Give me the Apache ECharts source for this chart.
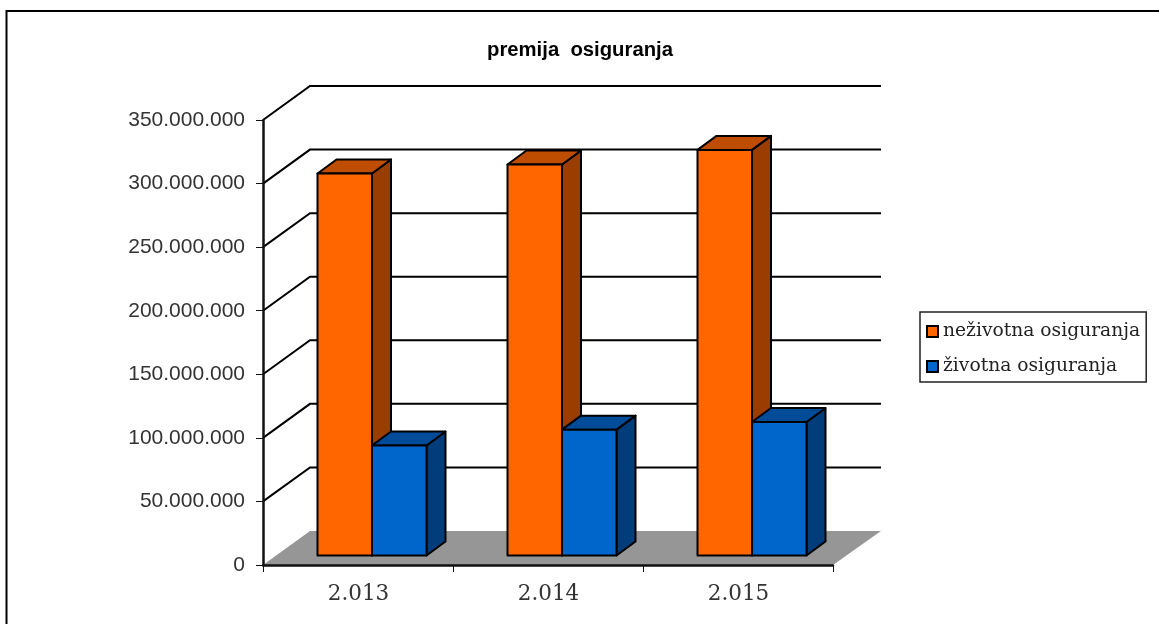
<!DOCTYPE html>
<html>
<head>
<meta charset="utf-8">
<title>premija osiguranja</title>
<script src="https://cdn.jsdelivr.net/npm/echarts@6/dist/echarts.min.js"></script>
<style>
html,body{margin:0;padding:0;background:#fff;}
#main{width:1159px;height:624px;}
</style>
</head>
<body>
<div id="main"></div>
<script>
var categories = ['2.013', '2.014', '2.015'];
var nezivotna = [300500000, 307500000, 319000000];
var zivotna = [86500000, 99000000, 105000000];
var wallTicks = [50000000, 100000000, 150000000, 200000000, 250000000, 300000000, 350000000];

var myChart = echarts.init(document.getElementById('main'));

// back wall is 47px right and 34px up from the axis plane
var wallDx = 47, wallDy = 34;
// bars stand a bit behind the front edge
var barShiftX = 14, barShiftY = 9.5, barDx = 19, barDy = 14, barW = 54.5;

function fmt(v){
    return String(v).replace(/\B(?=(\d{3})+$)/g, '.');
}

function renderWall(params, api){
    var cs = params.coordSys;
    var y = api.coord([0, api.value(0)])[1];
    return {
        type: 'polyline',
        shape: {points: [[cs.x, y], [cs.x + wallDx, y - wallDy], [cs.x + cs.width + wallDx + 1, y - wallDy]]},
        style: {fill: 'none', stroke: '#000', lineWidth: 2}
    };
}

function renderFloor(params, api){
    var cs = params.coordSys;
    var b = cs.y + cs.height;
    return {
        type: 'polygon',
        shape: {points: [[cs.x, b], [cs.x + wallDx, b - wallDy], [cs.x + cs.width + wallDx + 1, b - wallDy], [cs.x + cs.width, b]]},
        style: {fill: '#969696', stroke: 'none'}
    };
}

function barRender(side, front, top, dark){
    return function(params, api){
        var p = api.coord([api.value(0), api.value(1)]);
        var base = api.coord([api.value(0), 0]);
        var x0 = p[0] + barShiftX + (side < 0 ? -barW : 0);
        var x1 = x0 + barW;
        var yt = p[1] - barShiftY;
        var yb = base[1] - barShiftY;
        var st = {stroke: '#000', lineWidth: 2, lineJoin: 'round'};
        return {
            type: 'group',
            children: [
                {type: 'polygon', shape: {points: [[x1, yt], [x1 + barDx, yt - barDy], [x1 + barDx, yb - barDy], [x1, yb]]},
                    style: Object.assign({fill: dark}, st)},
                {type: 'polygon', shape: {points: [[x0, yt], [x0 + barDx, yt - barDy], [x1 + barDx, yt - barDy], [x1, yt]]},
                    style: Object.assign({fill: top}, st)},
                {type: 'rect', shape: {x: x0, y: yt, width: barW, height: yb - yt},
                    style: Object.assign({fill: front}, st)}
            ]
        };
    };
}

var option = {
    animation: false,
    backgroundColor: '#fff',
    title: {
        text: 'premija  osiguranja',
        left: 575,
        textAlign: 'center',
        top: 35,
        textStyle: {fontFamily: 'Liberation Sans', fontSize: 20.3, fontWeight: 'bold', color: '#000'}
    },
    legend: {
        left: 920,
        top: 312,
        orient: 'vertical',
        padding: [10, 6, 6, 6],
        itemGap: 16,
        itemWidth: 11,
        itemHeight: 11,
        icon: 'rect',
        borderColor: '#222',
        borderWidth: 1.5,
        data: ['neživotna osiguranja', 'životna osiguranja'],
        itemStyle: {borderColor: '#000', borderWidth: 2},
        textStyle: {fontFamily: 'DejaVu Serif', fontSize: 18.7, color: '#222'}
    },
    grid: {left: 263, top: 120, width: 570, height: 445},
    xAxis: {
        type: 'category',
        data: categories,
        z: 6,
        axisLine: {lineStyle: {color: '#111', width: 2.5}},
        axisTick: {show: true, length: 7, alignWithLabel: false, lineStyle: {color: '#111', width: 1}},
        axisLabel: {fontFamily: 'DejaVu Serif', fontSize: 21.5, color: '#333', margin: 18, padding: [0, 0, 0, 1]},
        splitLine: {show: false}
    },
    yAxis: {
        type: 'value',
        min: 0,
        max: 350000000,
        interval: 50000000,
        z: 6,
        axisLine: {show: true, onZero: false, lineStyle: {color: '#111', width: 2.5}},
        axisTick: {show: true, length: 7, lineStyle: {color: '#111', width: 1}},
        axisLabel: {fontFamily: 'Liberation Sans', fontSize: 21, color: '#333', margin: 18, formatter: fmt},
        splitLine: {show: false}
    },
    series: [
        {
            type: 'custom',
            silent: true,
            z: 1,
            renderItem: renderFloor,
            data: [[0]],
            encode: {y: 0}
        },
        {
            type: 'custom',
            silent: true,
            z: 2,
            renderItem: renderWall,
            data: wallTicks.map(function(v){ return [v]; }),
            encode: {y: 0}
        },
        {
            name: 'neživotna osiguranja',
            type: 'custom',
            z: 3,
            itemStyle: {color: '#FF6600'},
            renderItem: barRender(-1, '#FF6600', '#BF4D00', '#993D00'),
            data: nezivotna.map(function(v, i){ return [i, v]; }),
            encode: {x: 0, y: 1}
        },
        {
            name: 'životna osiguranja',
            type: 'custom',
            z: 4,
            itemStyle: {color: '#0066CC'},
            renderItem: barRender(1, '#0066CC', '#004C99', '#003D7A'),
            data: zivotna.map(function(v, i){ return [i, v]; }),
            encode: {x: 0, y: 1}
        }
    ],
    graphic: [
        {
            type: 'polyline',
            shape: {points: [[6.5, 624], [6.5, 11], [1159, 11]]},
            style: {fill: 'none', stroke: '#000', lineWidth: 2}
        }
    ]
};
myChart.setOption(option);
</script>
</body>
</html>
